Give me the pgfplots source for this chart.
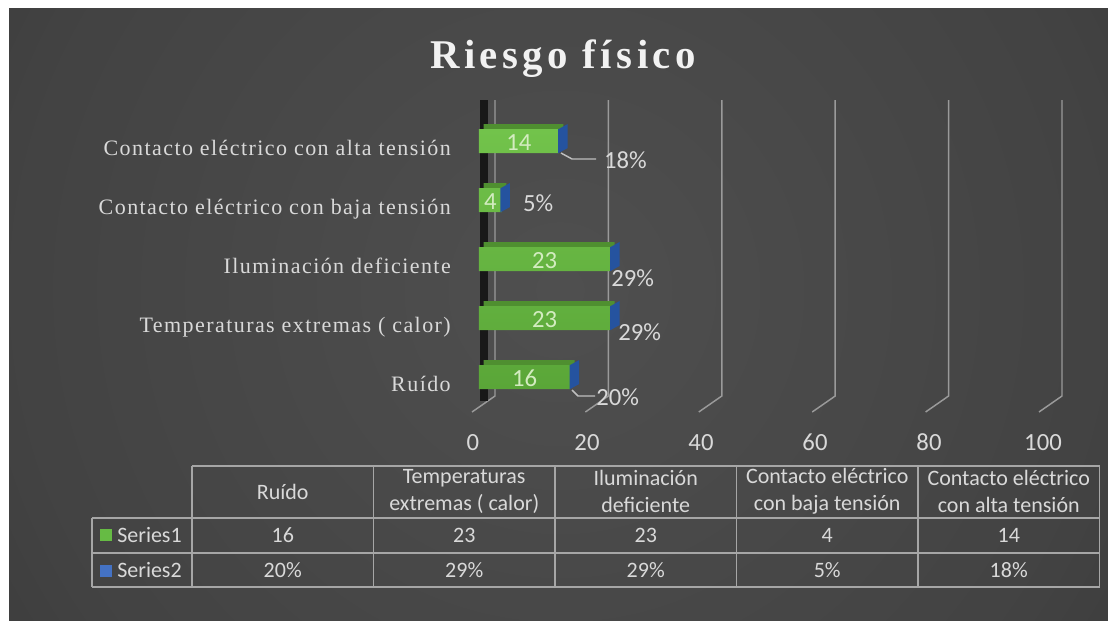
\documentclass[border=0pt]{standalone}
\usepackage{fontspec}
\setmainfont{Liberation Serif}
\newfontfamily\calib{Carlito}
\newfontfamily\catfont[LetterSpace=6.5]{Liberation Serif}
\newfontfamily\titlefont[LetterSpace=11]{Liberation Serif}
\usepackage{pgfplots}
\pgfplotsset{compat=1.18}
\usepackage{pgfplotstable}

\definecolor{txt}{HTML}{D9D9D9}
\definecolor{titlec}{HTML}{F2F2F2}
\definecolor{gridc}{HTML}{9A9A9A}
\definecolor{tablec}{HTML}{A6A6A6}
\definecolor{gtop}{HTML}{72C34B}
\definecolor{gbot}{HTML}{5AA638}
\definecolor{gface}{HTML}{4F8F30}
\definecolor{sideblue}{HTML}{25539F}
\definecolor{lblgreen}{HTML}{D3ECC0}
\definecolor{legblue}{HTML}{4472C4}
\definecolor{leggreen}{HTML}{66BB44}
\definecolor{wallc}{HTML}{181818}
\definecolor{leader}{HTML}{BFBFBF}

\pgfdeclareradialshading{bgshade}{\pgfpoint{0bp}{0bp}}{rgb(0bp)=(0.31,0.31,0.31); rgb(20bp)=(0.26,0.26,0.26); rgb(39bp)=(0.165,0.165,0.165); rgb(46bp)=(0.13,0.13,0.13); rgb(50bp)=(0.13,0.13,0.13)}

\pgfdeclareplotmark{sideface}{%
  \pgfpathmoveto{\pgfqpoint{-1.2pt}{-9pt}}%
  \pgfpathlineto{\pgfqpoint{-1.2pt}{9pt}}%
  \pgfpathlineto{\pgfqpoint{-0.86pt}{9pt}}%
  \pgfpathlineto{\pgfqpoint{5.9pt}{12.75pt}}%
  \pgfpathlineto{\pgfqpoint{5.9pt}{-5.25pt}}%
  \pgfpathlineto{\pgfqpoint{-0.86pt}{-9pt}}%
  \pgfpathclose\pgfusepathqfill}

\newcommand\tf{\calib\fontsize{16.5pt}{20.25pt}\selectfont}
\newcommand\lf{\calib\fontsize{18.5pt}{22pt}\selectfont}

\pgfplotstableread{
y s1 pct dx dy
0 16 20 26 20
1 23 29 8 14
2 23 29 1 19
3 4 5 21 3
4 14 18 45 19
}\data

\begin{document}
\begin{tikzpicture}[x=0.75pt,y=-0.75pt]
\useasboundingbox (0,0) rectangle (1108,621);
\fill[white] (0,0) rectangle (1108,621);
\begin{scope}
  \clip (9,8) rectangle (1108,621);
  \shade[shading=bgshade] (560,290) circle (700);
\end{scope}

% title
\node[anchor=base, text=titlec] at (563,68) {\titlefont\bfseries\fontsize{30.6pt}{36pt}\selectfont Riesgo físico};

% 3D grid lines
\foreach \k in {0,...,5}{
  \pgfmathsetmacro{\xb}{495+113.4*\k}
  \draw[gridc, line width=1.1pt] (\xb,100) -- (\xb,396) -- (\xb-23,412);
}
% left wall
\fill[wallc] (480,100) rectangle (488,401);

\begin{axis}[
  at={(359.25pt,-304.875pt)}, anchor=south west,
  scale only axis, width=427.5pt, height=221.25pt,
  xmin=0, xmax=100, ymin=-0.5, ymax=4.5,
  clip=false,
  axis line style={draw=none},
  major tick length=0pt,
  xtick={0,20,...,100},
  ytick={0,...,4},
  yticklabels={Ruído, Temperaturas extremas ( calor), Iluminación deficiente, Contacto eléctrico con baja tensión, Contacto eléctrico con alta tensión},
  xticklabel style={font=\lf, text=txt, anchor=base, inner sep=0pt, yshift=-33pt, xshift=-4.5pt},
  yticklabel style={font=\catfont\fontsize{16.5pt}{20pt}\selectfont, text=txt, anchor=base east, inner sep=0pt, xshift=-21pt, yshift=-10.9pt},
  /pgf/number format/assume math mode=true,
]
% top faces of the 3D bars
\addplot[xbar, bar width=3.75pt, bar shift=10.875pt, xshift=3.4pt, fill=gface, draw=none] table[x=s1,y=y]{\data};
% front faces (Series1)
\addplot[xbar, bar width=18pt, bar shift=0pt, draw=none, top color=gtop, bottom color=gbot] table[x=s1,y=y]{\data};
% Series2 (stacked on top, shown as the blue end face)
\addplot[only marks, mark=sideface, mark options={fill=sideblue, draw=none}] table[x expr=\thisrow{s1}+\thisrow{pct}/100, y=y]{\data};
% Series1 value labels
\addplot[draw=none, nodes near coords={\pgfplotspointmeta}, point meta=explicit symbolic,
  every node near coord/.append style={anchor=center, inner sep=0pt, font=\lf, text=lblgreen, yshift=-1pt}]
  table[x expr=\thisrow{s1}/2, y=y, meta=s1]{\data};
% Series2 percent labels
\addplot[draw=none, nodes near coords={\pgfplotspointmeta\%}, point meta=explicit symbolic,
  visualization depends on={\thisrow{dx}\as\dx},
  visualization depends on={\thisrow{dy}\as\dy},
  every node near coord/.append style={anchor=west, inner sep=0pt, font=\lf, text=txt, xshift=\dx*0.75pt, yshift=-\dy*0.75pt}]
  table[x=s1, y=y, meta=pct]{\data};
\end{axis}

% leader lines
\draw[leader, line width=1.1pt] (561,153) -- (572,159) -- (596,159);
\draw[leader, line width=1.1pt] (572,390) -- (578,396) -- (595,396);

% data table
\begin{scope}[tablec, line width=1.1pt]
  \draw (192,466) -- (1099.5,466);
  \draw (92,518) -- (1099.5,518);
  \draw (92,553) -- (1099.5,553);
  \draw (92,587) -- (1099.5,587);
  \draw (92,518) -- (92,587);
  \foreach \x in {192,373.5,555,736.5,918,1099.5} \draw (\x,466) -- (\x,587);
\end{scope}
\begin{scope}[every node/.style={align=center, font=\tf, text=txt, inner sep=0pt}]
  \node at (282.75,492) {Ruído};
  \node at (464.25,491.5) {Temperaturas\\extremas ( calor)};
  \node at (645.75,491.5) {Iluminación\\deficiente};
  \node at (827.25,491.5) {Contacto eléctrico\\con baja tensión};
  \node at (1008.75,491.5) {Contacto eléctrico\\con alta tensión};
  \node at (282.75,535.5) {16};
  \node at (464.25,535.5) {23};
  \node at (645.75,535.5) {23};
  \node at (827.25,535.5) {4};
  \node at (1008.75,535.5) {14};
  \node at (282.75,570) {20\%};
  \node at (464.25,570) {29\%};
  \node at (645.75,570) {29\%};
  \node at (827.25,570) {5\%};
  \node at (1008.75,570) {18\%};
  \node[anchor=west] at (117,535.5) {Series1};
  \node[anchor=west] at (117,570.5) {Series2};
\end{scope}
\fill[leggreen] (100,529) rectangle (112,541);
\fill[legblue] (100,565) rectangle (112,577);
\end{tikzpicture}
\end{document}
